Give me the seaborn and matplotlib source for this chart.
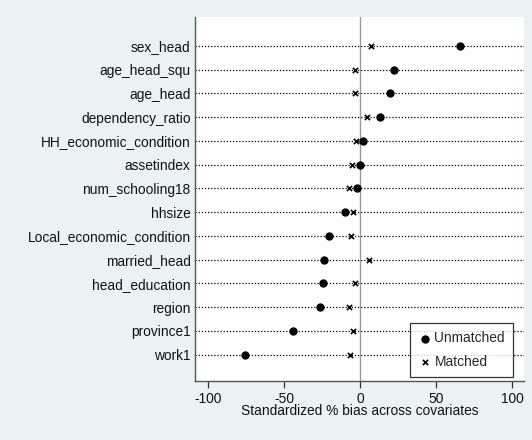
import pandas as pd
import seaborn as sns
import matplotlib.pyplot as plt

# covariates, top to bottom
covariates = ["sex_head", "age_head_squ", "age_head", "dependency_ratio",
              "HH_economic_condition", "assetindex", "num_schooling18", "hhsize",
              "Local_economic_condition", "married_head", "head_education",
              "region", "province1", "work1"]
unmatched = [65.9, 22.4, 19.5, 13.0, 2.0, -0.4, -2.4, -10.2,
             -20.9, -23.8, -24.7, -26.3, -44.1, -75.7]
matched = [6.7, -3.5, -3.5, 4.1, -3.1, -5.5, -7.6, -4.7,
           -6.0, 5.9, -3.3, -7.8, -4.9, -7.1]
xticks = [-100, -50, 0, 50, 100]

bg = "#EAF2F3"
sns.set_theme(style="white")
plt.rcParams["font.family"] = ["Liberation Sans", "DejaVu Sans"]
fs = 9.9

df = pd.DataFrame({"covariate": covariates, "Unmatched": unmatched, "Matched": matched})
df["pos"] = range(len(df))

fig = plt.figure(figsize=(5.32, 4.40), dpi=100, facecolor=bg)
ax = fig.add_axes([0.366, 0.1348, 0.619, 0.8259])
ax.set_facecolor("white")

# dotted guide lines for each covariate
for p in df["pos"]:
    ax.axhline(p, color="black", linestyle=(0, (1, 1.5)), linewidth=0.9, zorder=1)
ax.axvline(0, color="#999999", linewidth=1.0, zorder=1)

sns.scatterplot(data=df, x="Unmatched", y="pos", ax=ax, marker="o", s=36,
                color="black", edgecolor="black", linewidth=0, label="Unmatched", zorder=3)
sns.scatterplot(data=df, x="Matched", y="pos", ax=ax, marker="x", s=14,
                color="black", linewidth=1.2, label="Matched", zorder=3)

ax.set_xlim(-109, 107.7)
ax.set_ylim(len(df) - 1 + 1.1, -1.2)
ax.set_yticks(df["pos"])
ax.set_yticklabels(covariates)
ax.set_xticks(xticks)
ax.set_xticklabels([str(t) for t in xticks])
ax.tick_params(axis="y", length=0, pad=3, labelsize=fs, labelcolor="#111111")
ax.tick_params(axis="x", length=5, width=0.9, color="#333333", direction="out",
               pad=3, labelsize=fs, labelcolor="#111111", bottom=True)
ax.set_xlabel("Standardized % bias across covariates", fontsize=fs, labelpad=-1, color="#111111")
ax.set_ylabel("")

for side in ["top", "right"]:
    ax.spines[side].set_visible(False)
for side in ["left", "bottom"]:
    ax.spines[side].set_color("#555555")
    ax.spines[side].set_linewidth(1.0)

leg = ax.legend(loc="lower right", bbox_to_anchor=(0.967, 0.010), borderaxespad=0,
                fontsize=fs, frameon=True, fancybox=False, handletextpad=0.2,
                handlelength=1.0, borderpad=0.6, labelspacing=0.7)
leg.get_frame().set_edgecolor("black")
leg.get_frame().set_linewidth(0.9)

fig.savefig("out.png", dpi=100, facecolor=bg)
